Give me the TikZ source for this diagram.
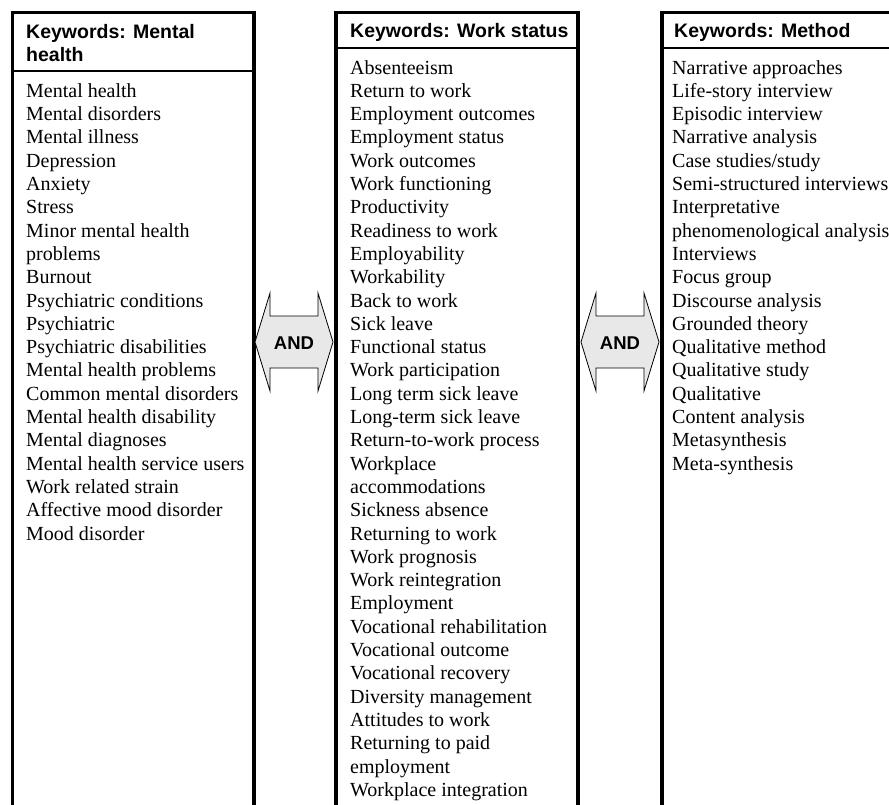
\documentclass[tikz,border=0pt]{standalone}
\usepackage{fontspec}
\setmainfont{Liberation Serif}
\setsansfont{Liberation Sans}
\begin{document}
\begin{tikzpicture}[x=1pt,y=-1pt,
  frame/.style={line width=3.5pt, line cap=butt, line join=miter},
  rule/.style={line width=1.5pt},
  head/.style={font=\sffamily\bfseries\fontsize{19.5}{23.3}\selectfont, anchor=base west, inner sep=0pt},
  entry/.style={font=\fontsize{20}{23.3}\selectfont, anchor=base west, inner sep=0pt},
  andarrow/.style={draw=black, line width=0.8pt, fill=black!9, line join=miter},
  andlabel/.style={font=\sffamily\bfseries\fontsize{18.5}{20}\selectfont, inner sep=0pt}]
\useasboundingbox (0,0) rectangle (889,804);
\clip (0,0) rectangle (889,804);

% column frames (open at the bottom of the page)
\draw[frame] (12.5,830) -- (12.5,12.5) -- (254,12.5) -- (254,830);
\draw[rule] (12.5,71) -- (254,71);
\draw[frame] (336,830) -- (336,12.5) -- (578,12.5) -- (578,830);
\draw[rule] (336,48) -- (578,48);
\draw[frame] (662,830) -- (662,12.5) -- (910,12.5) -- (910,830);
\draw[rule] (662,48) -- (910,48);

% headings
\node[head] (hA1) at (26,38) {Keywords: Mental};
\node[head] (hA2) at (26,61.3) {health};
\node[head] (hB) at (350,37.3) {Keywords: Work status};
\node[head] (hC) at (674,37.3) {Keywords: Method};

% keyword lists
\foreach \t [count=\i] in {Mental health, Mental disorders, Mental illness,
  Depression, Anxiety, Stress, Minor mental health, problems, Burnout,
  Psychiatric conditions, Psychiatric, Psychiatric disabilities,
  Mental health problems, Common mental disorders, Mental health disability,
  Mental diagnoses, Mental health service users, Work related strain,
  Affective mood disorder, Mood disorder}
  \node[entry] (a\i) at (26,{97.3+(\i-1)*23.3}) {\t};

\foreach \t [count=\i] in {Absenteeism, Return to work, Employment outcomes,
  Employment status, Work outcomes, Work functioning, Productivity,
  Readiness to work, Employability, Workability, Back to work, Sick leave,
  Functional status, Work participation, Long term sick leave,
  Long-term sick leave, Return-to-work process, Workplace, accommodations,
  Sickness absence, Returning to work, Work prognosis, Work reintegration,
  Employment, Vocational rehabilitation, Vocational outcome,
  Vocational recovery, Diversity management, Attitudes to work,
  Returning to paid, employment, Workplace integration}
  \node[entry] (b\i) at (350,{74+(\i-1)*23.3}) {\t};

\foreach \t [count=\i] in {Narrative approaches, Life-story interview,
  Episodic interview, Narrative analysis, Case studies/study,
  Semi-structured interviews, Interpretative, phenomenological analysis,
  Interviews, Focus group, Discourse analysis, Grounded theory,
  Qualitative method, Qualitative study, Qualitative, Content analysis,
  Metasynthesis, Meta-synthesis}
  \node[entry] (c\i) at (672,{74+(\i-1)*23.3}) {\t};

% double-headed AND arrows between the columns
\foreach \xl/\xr/\n in {255/333/and1, 581/659/and2} {
  \draw[andarrow] (\xl,342) -- (\xl+15,293) -- (\xl+15,316) -- (\xr-15,316)
    -- (\xr-15,293) -- (\xr,342) -- (\xr-15,391) -- (\xr-15,368)
    -- (\xl+15,368) -- (\xl+15,391) -- cycle;
  \node[andlabel] (\n) at ({(\xl+\xr)/2},343) {AND};
}
\end{tikzpicture}
\end{document}
